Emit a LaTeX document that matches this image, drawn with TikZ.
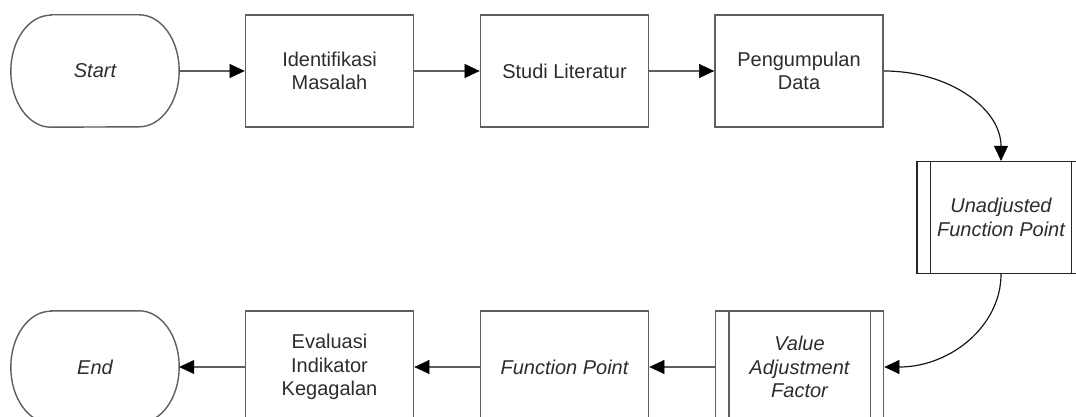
\documentclass[tikz,border=0pt]{standalone}
\usepackage{fontspec}
\setmainfont{Liberation Sans}
\usetikzlibrary{arrows.meta}
\definecolor{boxline}{RGB}{95,95,95}
\definecolor{txt}{RGB}{45,45,45}
\tikzset{
  base/.style={minimum width=168pt, minimum height=112pt, inner sep=0pt, align=center,
    text=txt, font=\fontsize{20}{23.5}\selectfont},
  procbox/.style={base, draw=boxline, line width=1.7pt},
  termbox/.style={base, draw=none},
  subbox/.style={base, draw=black!85, line width=1.2pt},
  termline/.style={draw=boxline, line width=1.4pt},
  tipstyle/.style={-{Triangle[length=15pt,width=14pt,color=black,line width=0.5pt]}},
  flow/.style={draw=boxline, line width=2pt, tipstyle},
  curvedflow/.style={draw=black!90, line width=1.2pt, tipstyle},
}
\newcommand{\termshape}[1]{%
  \draw[termline] ([xshift=40pt]#1.north west) -- ([xshift=-40pt]#1.north east)
    arc[start angle=90, end angle=-90, x radius=40pt, y radius=56pt]
    -- ([xshift=40pt]#1.south west)
    arc[start angle=270, end angle=90, x radius=40pt, y radius=56pt] -- cycle;}
\begin{document}
\begin{tikzpicture}[x=1pt, y=-1pt]
\clip (0,0) rectangle (1076,417);
\fill[white] (0,0) rectangle (1076,417);
% top row
\node[termbox] (start) at (95,71) {\itshape Start};
\node[procbox] (ident) at (329.5,71) {Identifikasi\\Masalah};
\node[procbox] (studi) at (564.5,71) {Studi Literatur};
\node[procbox] (peng) at (799,71) {Pengumpulan\\Data};
% right
\node[subbox] (ufp) at (1001,217.5) {\itshape Unadjusted\\\itshape Function Point};
% bottom row
\node[subbox, draw=boxline, line width=1.7pt] (vaf) at (799.5,367) {\itshape Value\\\itshape Adjustment\\\itshape Factor};
\node[procbox] (fp) at (564.5,367) {\itshape Function Point};
\node[procbox] (eval) at (329.5,367) {Evaluasi\\Indikator\\Kegagalan};
\node[termbox] (end) at (95,367) {\itshape End};
% terminator outlines
\termshape{start}
\termshape{end}
% subprocess inner bars
\draw[black!85, line width=1.2pt] ([xshift=14pt]ufp.north west) -- ([xshift=14pt]ufp.south west);
\draw[black!85, line width=1.2pt] ([xshift=-14pt]ufp.north east) -- ([xshift=-14pt]ufp.south east);
\draw[boxline, line width=1.7pt] ([xshift=14pt]vaf.north west) -- ([xshift=14pt]vaf.south west);
\draw[boxline, line width=1.7pt] ([xshift=-14pt]vaf.north east) -- ([xshift=-14pt]vaf.south east);
% connectors
\draw[flow] (start.east) -- (ident.west);
\draw[flow] (ident.east) -- (studi.west);
\draw[flow] (studi.east) -- (peng.west);
\draw[curvedflow] (peng.east) .. controls ([xshift=66pt]peng.east) and ([yshift=52pt]ufp.north) .. (ufp.north);
\draw[curvedflow] (ufp.south) .. controls ([yshift=-52pt]ufp.south) and ([xshift=66pt]vaf.east) .. (vaf.east);
\draw[flow] (vaf.west) -- (fp.east);
\draw[flow] (fp.west) -- (eval.east);
\draw[flow] (eval.west) -- (end.east);
\end{tikzpicture}
\end{document}
